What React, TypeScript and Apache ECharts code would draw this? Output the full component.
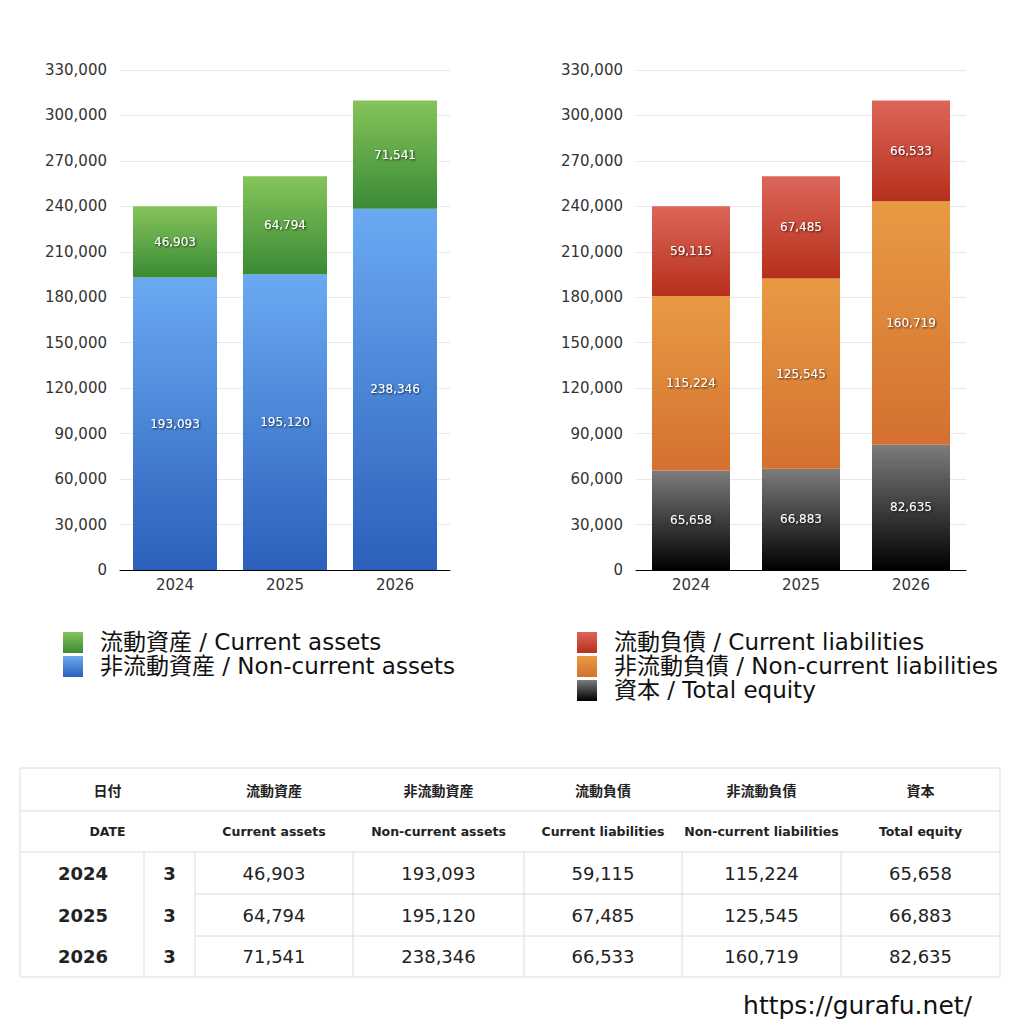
import React, { useEffect, useRef } from "react";
import * as echarts from "echarts";

const years = ["2024", "2025", "2026"];
const months = ["3", "3", "3"];
const currentAssets = [46903, 64794, 71541];
const nonCurrentAssets = [193093, 195120, 238346];
const currentLiabilities = [59115, 67485, 66533];
const nonCurrentLiabilities = [115224, 125545, 160719];
const totalEquity = [65658, 66883, 82635];

const yTicksMax = 330000;
const yInterval = 30000;

const nameCA = "流動資産 / Current assets";
const nameNCA = "非流動資産 / Non-current assets";
const nameCL = "流動負債 / Current liabilities";
const nameNCL = "非流動負債 / Non-current liabilities";
const nameEQ = "資本 / Total equity";

const headJa = ["流動資産", "非流動資産", "流動負債", "非流動負債", "資本"];
const headEn = ["Current assets", "Non-current assets", "Current liabilities", "Non-current liabilities", "Total equity"];
const dateJa = "日付";
const dateEn = "DATE";
const url = "https://gurafu.net/";

const FONT = "'DejaVu Sans', 'Noto Sans CJK JP', sans-serif";
const JFONT = "'Noto Sans CJK JP', sans-serif";

const grad = (top: string, bottom: string) =>
  new echarts.graphic.LinearGradient(0, 0, 0, 1, [
    { offset: 0, color: top },
    { offset: 1, color: bottom },
  ]);

const COLORS = {
  ca: ["#86c45a", "#3a8a35"],
  nca: ["#6aaaf2", "#2b60bb"],
  cl: ["#dc6659", "#b6301c"],
  ncl: ["#e89b43", "#d47030"],
  eq: ["#7c7c7c", "#000000"],
};

const fmt = (v: number) => v.toLocaleString("en-US");

export default function App() {
  const ref = useRef<HTMLDivElement>(null);
  useEffect(() => {
    if (!ref.current) return;
    const chart = echarts.init(ref.current, null, { renderer: "svg" });

    const label = {
      show: true,
      position: "inside",
      color: "#ffffff",
      fontSize: 12,
      fontFamily: FONT,
      textShadowColor: "rgba(0,0,0,0.75)",
      textShadowBlur: 2,
      textShadowOffsetX: 1,
      textShadowOffsetY: 1,
      formatter: (p: any) => fmt(p.value),
    };

    const yAxisBase = {
      type: "value",
      min: 0,
      max: yTicksMax,
      interval: yInterval,
      axisLine: { show: false },
      axisTick: { show: false },
      axisLabel: {
        color: "#333",
        fontSize: 15,
        fontFamily: FONT,
        margin: 13,
        formatter: (v: number) => fmt(v),
      },
      splitLine: { lineStyle: { color: "#e9e9e9", width: 1 } },
    };
    const xAxisBase = {
      type: "category",
      data: years,
      axisLine: { show: true, lineStyle: { color: "#000", width: 1 } },
      axisTick: { show: false },
      axisLabel: { color: "#333", fontSize: 15, fontFamily: FONT, margin: 7 },
    };

    // legends
    const legendItems: any[] = [];
    const addLegend = (x: number, y: number, name: string, c: string[]) => {
      legendItems.push({
        type: "rect",
        shape: { x, y: y - 10, width: 20, height: 21 },
        style: { fill: grad(c[0], c[1]) },
      });
      legendItems.push({
        type: "text",
        x: x + 37,
        y,
        style: { text: name, font: `23px ${FONT}`, fill: "#111", verticalAlign: "middle", align: "left" },
      });
    };
    addLegend(63, 642, nameCA, COLORS.ca);
    addLegend(63, 666, nameNCA, COLORS.nca);
    addLegend(577, 642, nameCL, COLORS.cl);
    addLegend(577, 666, nameNCL, COLORS.ncl);
    addLegend(577, 690, nameEQ, COLORS.eq);

    // table
    const tbl: any[] = [];
    const lc = "#dcdcdc";
    const L = 20, R = 1000;
    const rowY = [768, 811, 852, 894, 936, 977];
    const colX = [20, 144, 195, 353, 524, 682, 841, 1000];
    const hline = (x1: number, x2: number, y: number) =>
      tbl.push({ type: "line", shape: { x1, y1: y, x2, y2: y }, style: { stroke: lc, lineWidth: 1 } });
    const vline = (x: number, y1: number, y2: number) =>
      tbl.push({ type: "line", shape: { x1: x, y1, x2: x, y2 }, style: { stroke: lc, lineWidth: 1 } });
    hline(L, R, rowY[0]);
    hline(L, R, rowY[1]);
    hline(L, R, rowY[2]);
    hline(colX[2], R, rowY[3]);
    hline(colX[2], R, rowY[4]);
    hline(L, R, rowY[5]);
    vline(L, rowY[0], rowY[5]);
    vline(R, rowY[0], rowY[5]);
    for (let i = 1; i < colX.length - 1; i++) vline(colX[i], rowY[2], rowY[5]);

    const txt = (x: number, y: number, t: string, font: string) =>
      tbl.push({
        type: "text",
        x,
        y,
        style: { text: t, font, fill: "#222", align: "center", verticalAlign: "middle" },
      });
    const headJaFont = `bold 14px ${JFONT}`;
    const headEnFont = `bold 12.5px ${FONT}`;
    const midRow = (i: number) => (rowY[i] + rowY[i + 1]) / 2;
    txt((colX[0] + colX[2]) / 2, midRow(0), dateJa, headJaFont);
    txt((colX[0] + colX[2]) / 2, midRow(1), dateEn, headEnFont);
    for (let c = 0; c < 5; c++) {
      const cx = (colX[c + 2] + colX[c + 3]) / 2;
      txt(cx, midRow(0), headJa[c], headJaFont);
      txt(cx, midRow(1), headEn[c], headEnFont);
    }
    const cols = [currentAssets, nonCurrentAssets, currentLiabilities, nonCurrentLiabilities, totalEquity];
    for (let r = 0; r < years.length; r++) {
      const y = midRow(r + 2);
      txt(83, y, years[r], `bold 18px ${FONT}`);
      txt((colX[1] + colX[2]) / 2, y, months[r], `bold 18px ${FONT}`);
      for (let c = 0; c < 5; c++) {
        txt((colX[c + 2] + colX[c + 3]) / 2, y, fmt(cols[c][r]), `18px ${FONT}`);
      }
    }
    tbl.push({
      type: "text",
      x: 972,
      y: 1005,
      style: { text: url, font: `25px ${FONT}`, fill: "#111", align: "right", verticalAlign: "middle" },
    });

    chart.setOption({
      animation: false,
      backgroundColor: "#ffffff",
      grid: [
        { left: 120, top: 70, width: 330, height: 500 },
        { left: 636, top: 70, width: 330, height: 500 },
      ],
      xAxis: [
        { ...xAxisBase, gridIndex: 0 },
        { ...xAxisBase, gridIndex: 1 },
      ],
      yAxis: [
        { ...yAxisBase, gridIndex: 0 },
        { ...yAxisBase, gridIndex: 1 },
      ],
      series: [
        {
          name: nameNCA, type: "bar", stack: "a", xAxisIndex: 0, yAxisIndex: 0, barWidth: 84,
          data: nonCurrentAssets, itemStyle: { color: grad(COLORS.nca[0], COLORS.nca[1]) }, label,
        },
        {
          name: nameCA, type: "bar", stack: "a", xAxisIndex: 0, yAxisIndex: 0, barWidth: 84,
          data: currentAssets, itemStyle: { color: grad(COLORS.ca[0], COLORS.ca[1]) }, label,
        },
        {
          name: nameEQ, type: "bar", stack: "b", xAxisIndex: 1, yAxisIndex: 1, barWidth: 78,
          data: totalEquity, itemStyle: { color: grad(COLORS.eq[0], COLORS.eq[1]) }, label,
        },
        {
          name: nameNCL, type: "bar", stack: "b", xAxisIndex: 1, yAxisIndex: 1, barWidth: 78,
          data: nonCurrentLiabilities, itemStyle: { color: grad(COLORS.ncl[0], COLORS.ncl[1]) }, label,
        },
        {
          name: nameCL, type: "bar", stack: "b", xAxisIndex: 1, yAxisIndex: 1, barWidth: 78,
          data: currentLiabilities, itemStyle: { color: grad(COLORS.cl[0], COLORS.cl[1]) }, label,
        },
      ],
      graphic: [...legendItems, ...tbl],
    });
    return () => chart.dispose();
  }, []);

  return (
    <div
      ref={ref}
      style={{ position: "absolute", left: 0, top: 0, width: 1024, height: 1024, background: "#fff" }}
    />
  );
}
